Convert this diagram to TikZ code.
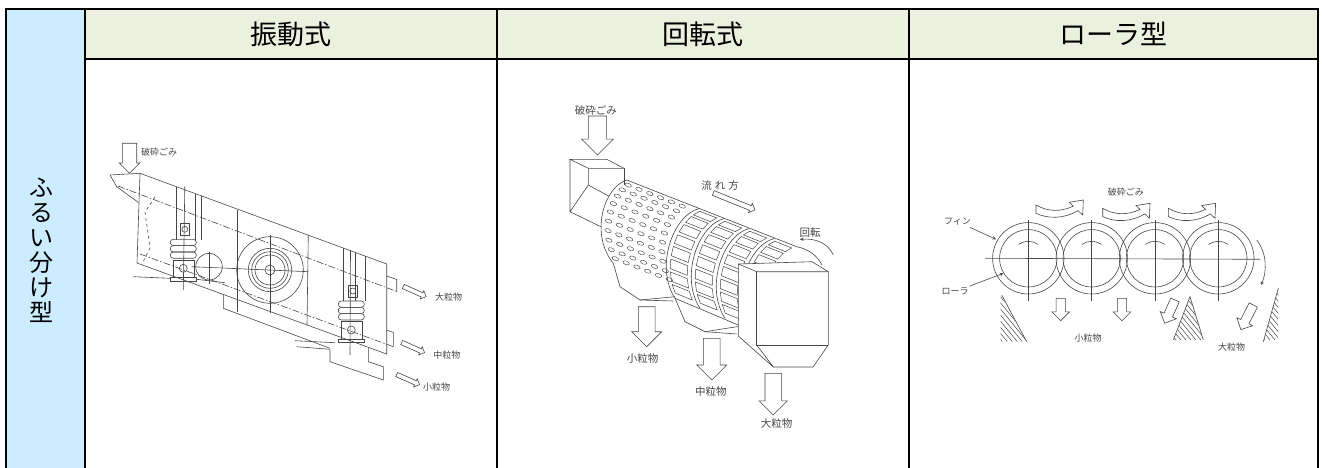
\documentclass[tikz,border=0pt]{standalone}
\usepackage{fontspec}
\setmainfont{Noto Sans CJK JP}
\usetikzlibrary{
	arrows
}
\definecolor{rowblue}{RGB}{204,236,255}
\definecolor{headgreen}{RGB}{235,241,222}
\definecolor{inkgray}{RGB}{70,70,70}

\begin{document}
\begin{tikzpicture}[x=1pt, y=-1pt,
    sketch/.style={draw=inkgray, line width=0.6pt},
    deck/.style={sketch, dash pattern=on 7pt off 2pt on 1.5pt off 2pt},
    smalltext/.style={font=\fontsize{9}{9}\selectfont, text=inkgray, inner sep=0pt, outer sep=2pt},
    midtext/.style={font=\fontsize{10.5}{10.5}\selectfont, text=inkgray, inner sep=0pt},
    headtext/.style={font=\fontsize{27}{27}\selectfont, text=black},
    tableline/.style={line width=2.4pt, black, line join=miter},
    pics/block arrow/.style n args={3}{code={
        \draw[sketch, fill=white] (0,{-#2/2}) -- ({#1-#3/2},{-#2/2}) -- ({#1-#3/2},{-#3/2}) -- (#1,0)
            -- ({#1-#3/2},{#3/2}) -- ({#1-#3/2},{#2/2}) -- (0,{#2/2}) -- cycle;
    }},
    pics/feed arrow/.style={code={
        \draw[sketch, fill=white] (0,0) .. controls (12,7) and (25,7) .. (37.3,1.1)
            -- (33.3,-2.7) -- (47.3,-5) -- (46.7,10) -- (42,5.6)
            .. controls (28,14) and (12,14) .. (0,8.3) -- cycle;
    }}
]
    \useasboundingbox (0,0) rectangle (1322,468);
    % Table cells
    \fill[rowblue]   (6,9)  rectangle (85,468);
    \fill[headgreen] (85,9) rectangle (1318,59);
    \node[headtext] (HeadVib) at (291,34)    {振動式};
    \node[headtext] (HeadRot) at (703,34)    {回転式};
    \node[headtext] (HeadRol) at (1113.5,34) {ローラ型};
    \node[font=\fontsize{24}{25}\selectfont, align=center, inner sep=0pt] (RowHead) at (41,250.5) {ふ\\る\\い\\分\\け\\型};

    % ---- Vibrating screen ----
    \coordinate (BodyTL) at (140,173.3);
    \coordinate (BodyTR) at (386.7,264);
    \coordinate (BodyBR) at (386.7,354);
    \coordinate (BodyBL) at (137,263);
    \coordinate (Wheel)  at (270,270);
    \coordinate (Motor)  at (209,266.7);
    % Feed
    \pic[rotate=-90] at (129.5,143.3) {block arrow={30}{14.4}{20.7}};
    \node[smalltext, anchor=west] (VibFeed) at (139,152.3) {破砕ごみ};
    % Body and decks
    \draw[sketch] (BodyTL) -- (BodyTR) -- (BodyBR) -- (BodyBL) -- cycle;
    \draw[sketch] (110,175) -- (BodyTL);
    \draw[sketch] (110,175) -- (116.7,186.7) -- (138.5,202.5);
    \draw[deck] (118,186) -- (396.7,291.5);
    \draw[deck] (140,254) -- (393.3,346.7);
    \draw[sketch, dashed] (155,197) -- (145,212) -- (150,248) -- (143,262);
    % Outlets
    \draw[sketch] (386.7,276) -- (396.7,279.5) -- (396.7,291.5);
    \draw[sketch] (386.7,330) -- (393.3,332.5) -- (393.3,346.7);
    \draw[sketch] (223.3,294.5) -- (223.3,308.3) -- (330,348.3);
    \draw[sketch] (330,350) -- (330,361.7) -- (383.3,380) -- (383.3,366.7) -- (368.3,361.7) -- (368.3,347.5);
    % Frame
    \draw[sketch] (237,209.5) -- (237,312);
    \draw[sketch] (308.3,235) -- (307,325);
    \foreach \x in {176.7,195,201.7} \draw[sketch] (\x,{173.3+(\x-140)*0.3676}) -- (\x,240);
    \foreach \x in {343.3,355,365}   \draw[sketch] (\x,{173.3+(\x-140)*0.3676}) -- (\x,301);
    \draw[sketch] (184.8,186.5) -- (183.3,290);
    \draw[sketch] (350.5,250) -- (350,355);
    % Springs
    \foreach \rx/\ry in {183.3/258.3, 351.3/320} {
        \begin{scope}[shift={(\rx,\ry)}]
            \draw[sketch] (-3,-35) rectangle (6,-23);
            \draw[sketch] (1.5,-29) circle[radius=3];
            \foreach \k in {0,1,2}
                \draw[sketch, rounded corners=3pt] (-13,{-19+6.33*\k}) rectangle (13,{-19+6.33*(\k+1)});
            \draw[sketch] (-10,1.7) rectangle (11,19);
            \draw[sketch] (0,10) circle[radius=4];
            \draw[sketch] (-13,19) rectangle (13,22.5);
        \end{scope}
    }
    % Motor and vibrator wheel
    \draw[sketch] (Motor) circle[radius=13.3];
    \draw[sketch] (209,251.5) -- (209,283.5);
    \draw[sketch] (191.7,266.7) -- (308.3,271.7);
    \foreach \r in {33.3,21.7,18.3,15,5} \draw[sketch] (Wheel) circle[radius=\r];
    \draw[sketch] (270,235) -- (270,313.3);
    % Base lines
    \draw[sketch] (133.3,276.7) -- (170,278.3);
    \draw[sketch] (196.7,279.3) -- (225,282.7);
    \draw[sketch] (295,340.7) -- (335,342.7);
    \draw[sketch] (296.7,346.7) -- (330,349.3);
    % Products
    \pic[rotate=-24] at (403.3,286.5) {block arrow={25}{4.5}{9}};
    \node[smalltext, anchor=west] (VibLarge) at (433,296.7) {大粒物};
    \pic[rotate=-24] at (401.7,342.5) {block arrow={25}{4.5}{9}};
    \node[smalltext, anchor=west] (VibMid) at (431.3,355) {中粒物};
    \pic[rotate=-24] at (396.7,374.5) {block arrow={25}{4.5}{9}};
    \node[smalltext, anchor=west] (VibSmall) at (421,386.7) {小粒物};

    % ---- Rotary screen ----
    \node[midtext] (RotFeed) at (595.8,110) {破砕ごみ};
    \pic[rotate=-90] at (597.5,116) {block arrow={39}{18.3}{31.7}};
    % Inlet chute
    \draw[sketch] (570,159.3) -- (606.7,159.3) -- (624,168.3) -- (588.3,168.3) -- cycle;
    \draw[sketch] (588.3,168.3) -- (588.3,185) -- (570,211.7) -- (570,159.3);
    \draw[sketch] (624,168.3) -- (624,185);
    \draw[sketch] (588.3,185) -- (608.5,196);
    \draw[sketch] (570,211.7) -- (601.5,227);
    % Drum outline
    \draw[sketch] (626.7,180) .. controls (603,188) and (590,235) .. (613.3,263.3);
    \draw[sketch] (626.7,180) -- (796.7,246.7);
    \draw[sketch] (796.7,246.7) .. controls (808,249) and (817,255) .. (822,265);
    \draw[sketch] (675,298.3) -- (738.3,325);
    % Holes
    \foreach \j in {0,...,9} {
        \pgfmathsetmacro\tpar{0.08+0.0933*\j}
        \pgfmathsetmacro\hx{(1-\tpar)^3*626.7+3*(1-\tpar)^2*\tpar*603+3*(1-\tpar)*\tpar^2*590+\tpar^3*613.3}
        \pgfmathsetmacro\hy{(1-\tpar)^3*180+3*(1-\tpar)^2*\tpar*188+3*(1-\tpar)*\tpar^2*235+\tpar^3*263.3}
        \foreach \i in {0,...,5}
            \draw[sketch, line width=0.45pt, shift={({\hx+7+10.8*\i},{\hy+2.5+4.2*\i})}, rotate=-20]
                (0,0) ellipse[x radius=3.4, y radius=1.8];
    }
    % Slotted rings
    \foreach \k in {0,...,3} {
        \draw[sketch] ({699+25*\k},{208.5+10*\k}) .. controls ({672+25*\k},{216+10*\k})
            and ({655+25*\k},{268+10*\k}) .. ({675+25*\k},{298.3+10*\k});
        \foreach \j in {0,...,7} {
            \pgfmathsetmacro\ta{0.04+0.115*\j}
            \pgfmathsetmacro\tb{\ta+0.085}
            \pgfmathsetmacro\ax{(1-\ta)^3*699+3*(1-\ta)^2*\ta*672+3*(1-\ta)*\ta^2*655+\ta^3*675+25*\k+4}
            \pgfmathsetmacro\ay{(1-\ta)^3*208.5+3*(1-\ta)^2*\ta*216+3*(1-\ta)*\ta^2*268+\ta^3*298.3+10*\k+1.6}
            \pgfmathsetmacro\bx{(1-\tb)^3*699+3*(1-\tb)^2*\tb*672+3*(1-\tb)*\tb^2*655+\tb^3*675+25*\k+4}
            \pgfmathsetmacro\by{(1-\tb)^3*208.5+3*(1-\tb)^2*\tb*216+3*(1-\tb)*\tb^2*268+\tb^3*298.3+10*\k+1.6}
            \draw[sketch, line width=0.5pt] (\ax,\ay) -- ({\ax+17},{\ay+6.8}) -- ({\bx+17},{\by+6.8}) -- (\bx,\by) -- cycle;
        }
    }
    % Hoppers
    \draw[sketch] (613.3,263.3) -- (620,286.7) -- (640,300) -- (675,296.7);
    \draw[sketch] (640,300) -- (673.3,301);
    \draw[sketch] (675,298.3) -- (685,321.7) -- (705,331.7) -- (738.3,326.5);
    \draw[sketch] (705,331.7) -- (736.7,334);
    % Outlet box
    \draw[sketch, fill=white] (738.3,264) -- (812,261.7) -- (828.3,271.7) -- (828.3,345)
        -- (813,367) -- (773.3,367) -- (738.3,336) -- cycle;
    \draw[sketch] (738.3,264) -- (756.7,271.7) -- (828.3,271.7);
    \draw[sketch] (756.7,271.7) -- (756.7,345) -- (828.3,345);
    \draw[sketch] (756.7,345) -- (773.3,367);
    % Flow and rotation
    \node[midtext] (RotFlow) at (720,186) {流\hspace{3pt}れ\hspace{3pt}方};
    \pic[rotate=-22] at (713.3,193) {block arrow={45}{5}{10}};
    \node[midtext] (RotTurn) at (810,232.7) {回転};
    \draw[sketch, <-, >=stealth] (800,239.5) .. controls (815,238) and (828,243) .. (833.3,255);
    % Products
    \pic[rotate=-90] at (646.7,306.7) {block arrow={40}{16.7}{30}};
    \node[midtext] (RotSmall) at (642.5,358.3) {小粒物};
    \pic[rotate=-90] at (711.7,338.3) {block arrow={41.7}{16.7}{30}};
    \node[midtext] (RotMid) at (710.8,391.7) {中粒物};
    \pic[rotate=-90] at (773.3,373.3) {block arrow={41.7}{16.7}{28.3}};
    \node[midtext] (RotLarge) at (776.7,423.3) {大粒物};

    % ---- Roller screen ----
    \node[smalltext] (RolFeed) at (1125.8,192.3) {破砕ごみ};
    \foreach \x/\y in {1036/205, 1102.7/208.3, 1168.3/208.3} \pic at (\x,\y) {feed arrow};
    % Rollers
    \foreach \cx in {1028.3,1091.7,1155,1218.3} {
        \draw[sketch] (\cx,258.3) circle[radius=35.7];
        \draw[sketch] (\cx,258.3) circle[radius=28.7];
        \draw[sketch] (\cx,220) -- (\cx,300.5);
        \draw[sketch] (\cx,258.3) ++(-125:17) arc[start angle=-125, end angle=-55, radius=17];
    }
    \draw[sketch] (985,258.3) -- (1260,259.3);
    \draw[sketch, ->, >=stealth] (1256.7,240) .. controls (1267,253) and (1267,272) .. (1261,285);
    % Labels with pointers
    \node[smalltext] (FinText) at (957.5,221.7) {フィン};
    \coordinate (FinTip) at (996,239.3);
    \draw[sketch, ->, >=stealth] (FinText) -- (FinTip);
    \node[smalltext] (RollText) at (955,291.7) {ローラ};
    \coordinate (RollTip) at (1003.3,273.3);
    \draw[sketch, ->, >=stealth] (RollText) -- (RollTip);
    % Chutes
    \begin{scope}
        \clip (1000.7,295) -- (1026.7,341.7) -- (1000.7,341.7) -- cycle;
        \foreach \s in {960,965,...,1030} \draw[sketch, line width=0.5pt] (\s,290) -- ++(45,55);
    \end{scope}
    \draw[sketch] (1001.7,295) -- (1026.7,341.7);
    \begin{scope}
        \clip (1173.3,340) -- (1190,296.7) -- (1203.3,340) -- cycle;
        \foreach \s in {1130,1135,...,1205} \draw[sketch, line width=0.5pt] (\s,290) -- ++(45,55);
    \end{scope}
    \draw[sketch] (1173.3,340) -- (1190,296.7) -- (1203.3,340);
    \begin{scope}
        \clip (1278.3,288.3) -- (1263.3,341.7) -- (1278.3,341.7) -- cycle;
        \foreach \s in {1215,1220,...,1280} \draw[sketch, line width=0.5pt] (\s,285) -- ++(45,55);
    \end{scope}
    \draw[sketch] (1278.3,288.3) -- (1263.3,341.7);
    % Products
    \pic[rotate=-90]  at (1060.7,298.3) {block arrow={22.4}{9.3}{17.7}};
    \pic[rotate=-90]  at (1122,298.3)   {block arrow={22.4}{9.3}{17.7}};
    \pic[rotate=-114] at (1175,300)     {block arrow={25.4}{9.3}{17.7}};
    \pic[rotate=-117] at (1253.3,305)   {block arrow={27.6}{9.3}{17.7}};
    \node[smalltext] (RolSmall) at (1088,338.3)   {小粒物};
    \node[smalltext] (RolLarge) at (1231.7,346.7) {大粒物};

    % Table lines
    \draw[tableline] (6,468) -- (6,9) -- (1318,9) -- (1318,468);
    \draw[tableline] (85,59) -- (1318,59);
    \foreach \x in {85,497,909} \draw[tableline] (\x,9) -- (\x,468);
\end{tikzpicture}
\end{document}
